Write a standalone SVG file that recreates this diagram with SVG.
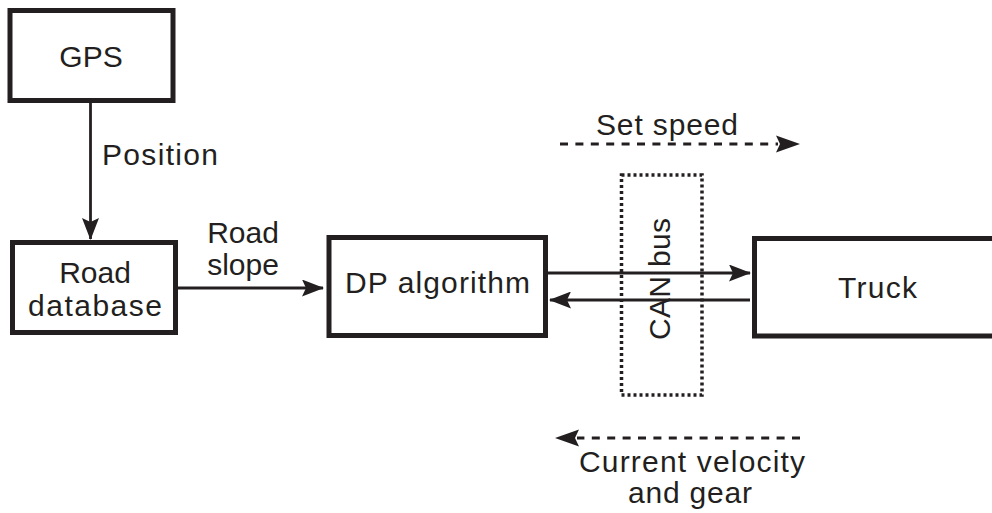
<svg xmlns="http://www.w3.org/2000/svg" width="992" height="513" viewBox="0 0 992 513">
<style>
.box{fill:#fff;stroke:#231f20;stroke-width:5}
.t{font-family:"Liberation Sans",Arial,sans-serif;font-size:30px;fill:#231f20}
.c{stroke:#231f20;stroke-width:2.8;fill:none}
.d{stroke:#231f20;stroke-width:3;fill:none;stroke-dasharray:8 7.4}
.dot{fill:none;stroke:#231f20;stroke-width:3.5;stroke-dasharray:3 3}
</style>
<defs>
<marker id="ah" viewBox="0 0 22 17" markerWidth="22" markerHeight="17" refX="21" refY="8.5" markerUnits="userSpaceOnUse" orient="auto">
<path d="M0,0 L22,8.5 L0,17 L4,8.5 z" fill="#231f20"/>
</marker>
</defs>
<g id="connectors">
<line class="c" x1="90.5" y1="103" x2="90.5" y2="239" marker-end="url(#ah)"/>
<line class="c" x1="178" y1="288" x2="323" y2="288" marker-end="url(#ah)"/>
<line class="c" x1="548" y1="273" x2="750" y2="273" marker-end="url(#ah)"/>
<line class="c" x1="750" y1="300" x2="550" y2="300" marker-end="url(#ah)"/>
<line class="d" x1="560" y1="144" x2="778" y2="144"/>
<path d="M776,135.5 L800,144 L776,152.5 L780,144 z" fill="#231f20"/>
<line class="d" x1="800" y1="438" x2="577" y2="438"/>
<path d="M579,429.5 L555,438 L579,446.5 L575,438 z" fill="#231f20"/>
<text class="t" x="102" y="165" textLength="116" lengthAdjust="spacing">Position</text>
<text class="t" x="243" y="242.5" text-anchor="middle">Road</text>
<text class="t" x="243" y="275" text-anchor="middle">slope</text>
<text class="t" x="596" y="135" textLength="142" lengthAdjust="spacing">Set speed</text>
<text class="t" x="579" y="471.5" textLength="226" lengthAdjust="spacing">Current velocity</text>
<text class="t" x="628" y="503" textLength="124" lengthAdjust="spacing">and gear</text>
</g>
<g id="gps">
<rect class="box" x="10" y="10.5" width="163" height="90"/>
<text class="t" x="91" y="66.5" text-anchor="middle">GPS</text>
</g>
<g id="road-database">
<rect class="box" x="12.5" y="242.5" width="163" height="90"/>
<text class="t" x="95" y="282.5" text-anchor="middle">Road</text>
<text class="t" x="28" y="315.5" textLength="134" lengthAdjust="spacing">database</text>
</g>
<g id="dp-algorithm">
<rect class="box" x="329" y="237.5" width="216.5" height="98"/>
<text class="t" x="345" y="293" textLength="185" lengthAdjust="spacing">DP algorithm</text>
</g>
<g id="can-bus">
<rect class="dot" x="621.5" y="175" width="80.5" height="220"/>
<text class="t" transform="translate(670,340) rotate(-90)" x="0" y="0" textLength="122" lengthAdjust="spacing">CAN bus</text>
</g>
<g id="truck">
<rect class="box" x="754.5" y="238.5" width="260" height="97.5"/>
<text class="t" x="838" y="298" textLength="79" lengthAdjust="spacing">Truck</text>
</g>
</svg>
